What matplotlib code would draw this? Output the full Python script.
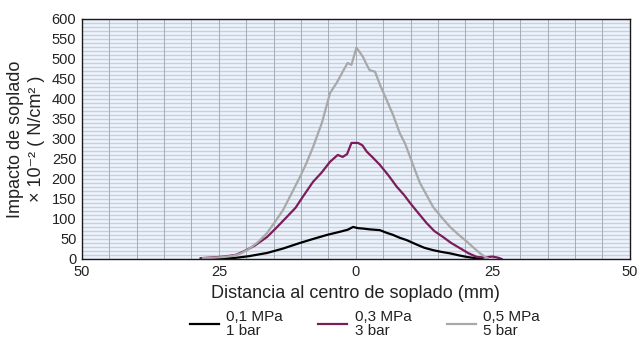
import matplotlib
matplotlib.use("Agg")
import matplotlib.pyplot as plt
import numpy as np

plt.rcParams['font.family'] = ['Liberation Sans', 'DejaVu Sans']

# Data (distance in mm, impact x10^-2 N/cm^2)
x_01 = [-28.3, -25.0, -22.4, -19.5, -16.2, -13.3, -10.2, -7.8, -5.3, -2.9, -1.5, -0.5, 0.4, 1.3, 2.5, 4.4, 5.5, 6.8, 8.0, 9.3, 11.1, 12.5, 14.1, 15.5, 17.2, 18.8, 20.3, 21.8, 23.1]
y_01 = [0, 1, 2, 7, 15, 26, 40, 50, 60, 68, 73, 80, 77, 76, 74, 72, 66, 60, 53, 47, 36, 28, 22, 18, 14, 9, 5, 2, 0]

x_03 = [-28.3, -26.0, -24.0, -22.0, -20.6, -18.5, -16.2, -14.5, -12.6, -11.0, -9.7, -7.8, -6.3, -4.7, -3.3, -2.4, -1.6, -0.8, 0.4, 1.2, 2.0, 3.2, 4.4, 6.0, 7.5, 8.8, 9.9, 11.2, 12.9, 14.3, 15.9, 17.4, 19.0, 20.6, 22.1, 23.5, 25.0, 26.0, 26.6]
y_03 = [2, 4, 6, 10, 18, 33, 55, 78, 105, 128, 155, 193, 215, 243, 260, 255, 262, 290, 290, 284, 268, 252, 235, 208, 180, 160, 140, 118, 90, 70, 55, 40, 27, 14, 5, 4, 6, 3, 0]

x_05 = [-27.9, -26.0, -24.0, -22.4, -20.8, -19.3, -17.8, -16.2, -14.8, -13.3, -11.8, -10.2, -9.0, -7.8, -6.2, -4.7, -3.5, -2.4, -1.5, -0.8, 0.1, 0.8, 1.3, 2.0, 2.5, 3.5, 4.5, 5.6, 6.8, 8.0, 9.0, 9.9, 10.8, 11.7, 12.9, 14.1, 15.6, 17.2, 18.8, 20.3, 21.5, 22.6, 23.4, 24.1]
y_05 = [2, 3, 5, 8, 15, 27, 43, 65, 92, 122, 162, 205, 240, 280, 340, 415, 440, 468, 490, 485, 528, 515, 505, 485, 472, 468, 432, 398, 360, 315, 288, 255, 222, 190, 160, 130, 105, 80, 60, 43, 28, 15, 7, 2]

labels = ['0,1 MPa\n1 bar', '0,3 MPa\n3 bar', '0,5 MPa\n5 bar']
colors = ['#000000', '#7b1d5c', '#a9a9a9']
xticks = [-50, -25, 0, 25, 50]
xticklabels = ['50', '25', '0', '25', '50']
yticks = list(range(0, 601, 50))

fig = plt.figure(figsize=(6.4, 3.43), dpi=100)
ax = fig.add_axes([0.128, 0.245, 0.856, 0.70])
ax.set_facecolor('#eef3f9')

for yy in range(0, 601, 10):
    ax.axhline(yy, color='#c2d2e6', lw=1.0, zorder=1)
for xx in range(-50, 51, 5):
    ax.axvline(xx, color='#a4adb7', lw=0.7, zorder=1)

series = [(x_01, y_01), (x_03, y_03), (x_05, y_05)]
handles = []
for (xs, ys), c, lab in zip(series, colors, labels):
    h, = ax.plot(xs, ys, color=c, lw=1.6, label=lab, zorder=3)
    handles.append(h)

ax.set_xlim(-50, 50)
ax.set_ylim(0, 600)
ax.set_xticks(xticks)
ax.set_xticklabels(xticklabels)
ax.set_yticks(yticks)
ax.tick_params(length=0, labelsize=10.5, pad=4, colors='#222222')
for s in ax.spines.values():
    s.set_color('#1a1a1a')
    s.set_linewidth(1.0)
    s.set_zorder(4)

ax.set_xlabel('Distancia al centro de soplado (mm)', fontsize=13, labelpad=5, color='#222222')
ax.set_ylabel('Impacto de soplado\n× 10⁻² ( N/cm² )', fontsize=13, labelpad=5, color='#222222', linespacing=1.3)

leg = fig.legend(handles=handles, labels=labels, loc='center', bbox_to_anchor=(0.57, 0.055),
                 ncol=3, frameon=False, fontsize=11.0, handlelength=1.9, handletextpad=0.5,
                 columnspacing=2.3, labelspacing=0.0, borderpad=0.2)
for t in leg.get_texts():
    t.set_linespacing(0.95)
    t.set_color('#222222')

fig.savefig('out.png', dpi=100)
